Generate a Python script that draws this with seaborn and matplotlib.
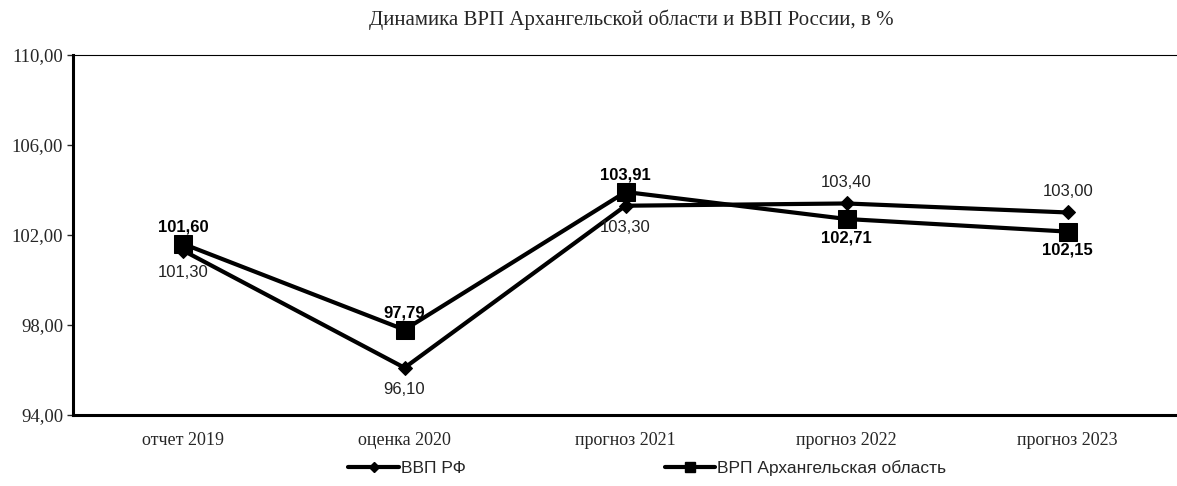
import pandas as pd
import matplotlib
matplotlib.use("Agg")
import matplotlib.pyplot as plt
from matplotlib.lines import Line2D
import seaborn as sns

categories = ["отчет 2019", "оценка 2020", "прогноз 2021", "прогноз 2022", "прогноз 2023"]
vvp_rf = [101.30, 96.10, 103.30, 103.40, 103.00]
vrp_arh = [101.60, 97.79, 103.91, 102.71, 102.15]
yticks = [94, 98, 102, 106, 110]

sns.set_theme(style="white")
plt.rcParams["font.family"] = ["Liberation Serif", "DejaVu Serif"]

df = pd.DataFrame({"pos": range(len(categories)), "vvp": vvp_rf, "vrp": vrp_arh})

fig = plt.figure(figsize=(11.77, 4.86), dpi=100)
ax = fig.add_axes([0.062, 0.146, 0.939, 0.741])

sns.lineplot(data=df, x="pos", y="vvp", ax=ax, color="black", lw=3,
             marker="D", markersize=7, markeredgecolor="black")
sns.lineplot(data=df, x="pos", y="vrp", ax=ax, color="black", lw=3,
             marker="s", markersize=13, markeredgecolor="black")

ax.set_xlim(-0.5, 4.5)
ax.set_ylim(94, 110)
ax.set_yticks(yticks)
ax.set_yticklabels([f"{v:.2f}".replace(".", ",") for v in yticks], fontsize=13.5)
ax.set_xticks(range(len(categories)))
ax.set_xticklabels(categories, fontsize=13)
ax.set_xlabel("")
ax.set_ylabel("")
ax.tick_params(axis="y", left=True, length=4, width=1, pad=3)
ax.tick_params(axis="x", bottom=False, pad=6)

for side in ["left", "bottom"]:
    ax.spines[side].set_linewidth(2.2)
    ax.spines[side].set_color("black")
ax.spines["top"].set_linewidth(0.8)
ax.spines["top"].set_color("black")
ax.spines["right"].set_visible(False)

# подписи значений
vvp_pos = ["below", "below", "below", "above", "above"]
vrp_pos = ["above", "above", "above", "below", "below"]
for i, (v, p) in enumerate(zip(vvp_rf, vvp_pos)):
    off = 10 if p == "above" else -10
    ax.annotate(f"{v:.2f}".replace(".", ","), (i, v), xytext=(0, off),
                textcoords="offset points", ha="center",
                va="bottom" if p == "above" else "top",
                fontsize=12, family=["Liberation Sans"], color="#222222")
for i, (v, p) in enumerate(zip(vrp_arh, vrp_pos)):
    off = 7 if p == "above" else -8
    ax.annotate(f"{v:.2f}".replace(".", ","), (i, v), xytext=(0, off),
                textcoords="offset points", ha="center",
                va="bottom" if p == "above" else "top",
                fontsize=12, fontweight="bold", family=["Liberation Sans"],
                color="black")

fig.suptitle("Динамика ВРП Архангельской области и ВВП России, в %",
             x=0.536, y=0.959, va="center", fontsize=15)

h = [Line2D([], [], color="black", lw=3, marker="D", markersize=5),
     Line2D([], [], color="black", lw=3, marker="s", markersize=7)]
l = ["ВВП РФ", "ВРП Архангельская область"]
fig.legend(h, l, loc="lower center", bbox_to_anchor=(0.55, -0.012), ncol=2,
           frameon=False, prop={"family": "Liberation Sans", "size": 12.5},
           handlelength=2.9, columnspacing=11.5, handletextpad=0.1)

fig.savefig("out.png", dpi=100)
